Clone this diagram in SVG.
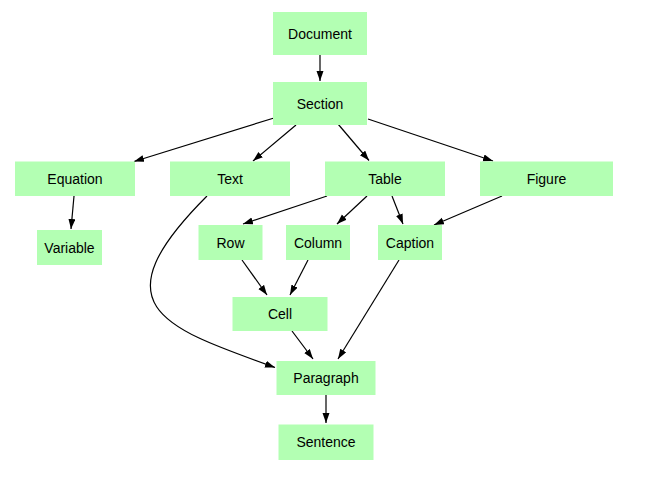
<svg xmlns="http://www.w3.org/2000/svg" width="658" height="477" viewBox="0 0 658 477">
<style>
.n rect{fill:#b3ffb3;stroke:none}
.n text{font-family:"Liberation Sans",Arial,sans-serif;font-size:14px;fill:#000;text-anchor:middle;dominant-baseline:central}
.e path{fill:none;stroke:#000;stroke-width:1.2}
</style>
<defs>
<marker id="ah" markerUnits="userSpaceOnUse" markerWidth="11" markerHeight="8" refX="10" refY="3.5" orient="auto">
<path d="M0,0 L10,3.5 L0,7 z" fill="#000"/>
</marker>
</defs>
<rect width="658" height="477" fill="#fff"/>
<g id="edges" class="e">
<path marker-end="url(#ah)" d="M320,55 L320,81"/>
<path marker-end="url(#ah)" d="M274,118 L134,161.5"/>
<path marker-end="url(#ah)" d="M296,125 L253,161"/>
<path marker-end="url(#ah)" d="M338,124 L369,160.5"/>
<path marker-end="url(#ah)" d="M368,119 L493,161"/>
<path marker-end="url(#ah)" d="M74,196 L71,229"/>
<path marker-end="url(#ah)" d="M327,196 L243,224"/>
<path marker-end="url(#ah)" d="M367,196 L337,224"/>
<path marker-end="url(#ah)" d="M392,196 L403,224"/>
<path marker-end="url(#ah)" d="M502,196 L434,225"/>
<path marker-end="url(#ah)" d="M242,260 L267,295"/>
<path marker-end="url(#ah)" d="M308,260 L290,295"/>
<path marker-end="url(#ah)" d="M292,331 L313,359"/>
<path marker-end="url(#ah)" d="M399,260 L338,359"/>
<path marker-end="url(#ah)" d="M207,196 C97,306 162,327 275,367.5"/>
<path marker-end="url(#ah)" d="M326,395 L326,423"/>
</g>
<g id="Document" class="n"><rect x="273" y="12" width="94" height="43"/><text x="320" y="33.5">Document</text></g>
<g id="Section" class="n"><rect x="273" y="82" width="94" height="43"/><text x="320" y="103.5">Section</text></g>
<g id="Equation" class="n"><rect x="15" y="161.5" width="120" height="34.5"/><text x="75" y="178.7">Equation</text></g>
<g id="Text" class="n"><rect x="170" y="161.5" width="120" height="34.5"/><text x="230" y="178.7">Text</text></g>
<g id="Table" class="n"><rect x="325" y="161.5" width="120" height="34.5"/><text x="385" y="178.7">Table</text></g>
<g id="Figure" class="n"><rect x="480" y="161.5" width="133" height="34.5"/><text x="546.5" y="178.7">Figure</text></g>
<g id="Variable" class="n"><rect x="37" y="230" width="65" height="35"/><text x="69.5" y="247.5">Variable</text></g>
<g id="Row" class="n"><rect x="198.5" y="225" width="64" height="35"/><text x="230.5" y="242.5">Row</text></g>
<g id="Column" class="n"><rect x="286" y="225" width="64" height="35"/><text x="318" y="242.5">Column</text></g>
<g id="Caption" class="n"><rect x="378" y="225" width="64" height="35"/><text x="410" y="242.5">Caption</text></g>
<g id="Cell" class="n"><rect x="232.5" y="297" width="95" height="34"/><text x="280" y="314">Cell</text></g>
<g id="Paragraph" class="n"><rect x="276.5" y="361" width="99" height="34"/><text x="326" y="378">Paragraph</text></g>
<g id="Sentence" class="n"><rect x="278.5" y="424.5" width="95" height="35.5"/><text x="326" y="442.2">Sentence</text></g>
</svg>
